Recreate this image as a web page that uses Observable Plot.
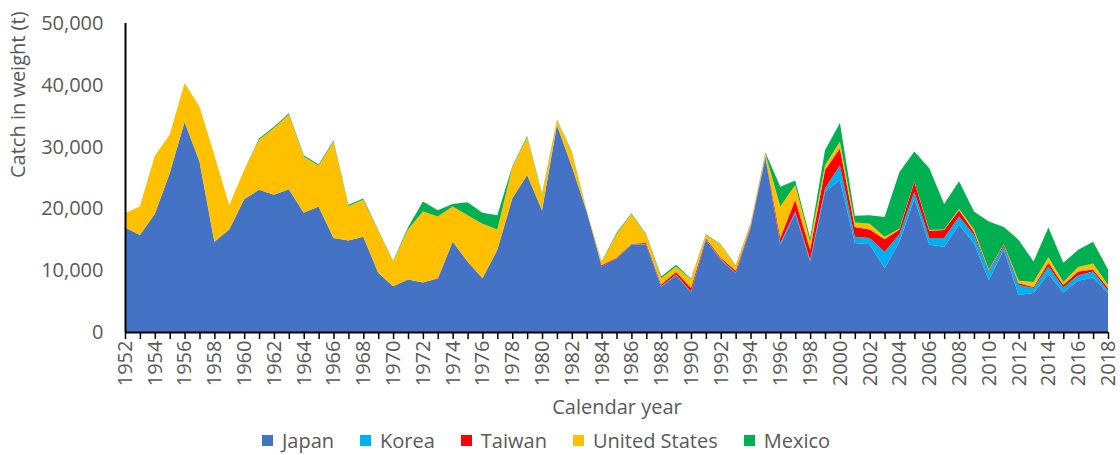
<!DOCTYPE html>
<html><head><meta charset="utf-8">
<script src="https://cdn.jsdelivr.net/npm/d3@7"></script>
<script src="https://cdn.jsdelivr.net/npm/@observablehq/plot@0.6"></script>
<style>
body{margin:0;background:#fff;font-family:"Open Sans",sans-serif;}
#chart{height:425px;}
#legend{display:flex;justify-content:center;align-items:center;height:30px;font-size:20px;color:#595959;padding-right:28px;}
.item{display:flex;align-items:center;margin:0 13px;}
.sw{width:11px;height:11px;margin-right:9px;}
</style></head><body><div id="chart"></div><div id="legend"></div>
<script>
const years = [1952,1953,1954,1955,1956,1957,1958,1959,1960,1961,1962,1963,1964,1965,1966,1967,1968,1969,1970,1971,1972,1973,1974,1975,1976,1977,1978,1979,1980,1981,1982,1983,1984,1985,1986,1987,1988,1989,1990,1991,1992,1993,1994,1995,1996,1997,1998,1999,2000,2001,2002,2003,2004,2005,2006,2007,2008,2009,2010,2011,2012,2013,2014,2015,2016,2017,2018];
const countries = ["Japan","Korea","Taiwan","United States","Mexico"];
const colors = ["#4472C4","#00B0F0","#FF0000","#FFC000","#00B050"];
const japan = [16900,15700,19100,25700,34000,27600,14600,16600,21500,23000, 22200,23100,19300,20300,15200,14800,15400,9600,7400,8500, 8000,8600,14600,11400,8700,13300,21600,25400,19700,33500, 26800,19500,10600,11900,14100,14100,7300,9200,6400,14900, 11700,9500,16800,28100,14100,19200,11400,22700,24600,14400, 14200,10300,14600,21600,14100,13800,17300,14400,8400,13300, 6000,6300,9400,6400,8300,8800,6300];
const korea = [0,0,0,0,0,0,0,0,0,0, 0,0,0,0,0,0,0,0,0,0, 0,0,0,0,0,0,0,0,0,0, 0,0,0,0,100,100,100,100,100,100, 100,100,100,100,300,300,300,500,2400,1000, 1000,2700,1200,1100,1100,1400,1400,1300,1400,500, 1600,800,1200,800,900,1000,400];
const taiwan = [0,0,0,0,0,0,0,0,0,0, 0,0,0,0,0,0,0,0,0,0, 0,100,0,0,0,0,0,0,0,0, 0,0,200,100,100,200,300,400,600,200, 200,300,200,200,800,1900,1600,3000,2700,1600, 1400,2000,800,1600,1200,1300,1000,500,200,300, 300,200,600,400,600,300,400];
const unitedStates = [2300,4600,9400,6200,6300,8900,14000,3900,4700,8100, 10800,12100,9100,6600,15600,5600,6000,6800,4000,8100, 11500,10000,5700,7500,8800,3300,5000,6100,2500,800, 2300,200,500,3800,4800,1300,1000,900,1400,500, 2100,800,400,400,5100,2400,1300,800,1100,700, 900,400,100,100,100,100,200,400,100,100, 400,800,900,500,700,1000,500];
const mexico = [0,0,0,0,0,0,0,0,0,200, 200,200,200,200,200,200,200,100,100,300, 1600,1000,400,2100,1800,2300,200,200,200,100, 100,0,100,200,100,100,300,300,100,100, 100,100,100,200,3200,700,600,2400,3000,1100, 1400,3200,9200,4800,10000,4100,4500,2900,7800,2800, 6600,3300,4800,3100,2800,3500,2500];
const yTicks = [0,10000,20000,30000,40000,50000];
const xLabelTicks = years.filter((y,i)=>i%2===0);

const seriesVals = [japan, korea, taiwan, unitedStates, mexico];
const data = [];
countries.forEach((c, k) => years.forEach((y, i) => data.push({year: y, country: c, value: seriesVals[k][i]})));

const txt = "#595959";
const chart = Plot.plot({
  width: 1120, height: 425,
  marginLeft: 125, marginRight: 12, marginTop: 23, marginBottom: 93,
  style: {fontFamily: '"Open Sans", sans-serif', fontSize: "20px", color: txt, background: "#fff"},
  x: {domain: [1952, 2018]},
  y: {domain: [0, 50000]},
  color: {domain: countries, range: colors},
  marks: [
    Plot.areaY(data, {x: "year", y: "value", fill: "country", order: countries}),
    Plot.axisY({ticks: yTicks, tickSize: 0, tickPadding: 22, tickFormat: d3.format(","), label: null, fill: txt, fontSize: 20}),
    Plot.axisX({ticks: years, tickSize: 7, tickFormat: () => "", label: null, stroke: "#000", strokeWidth: 1.5}),
    Plot.axisX({ticks: xLabelTicks, tickSize: 0, tickPadding: 8, tickRotate: -90, tickFormat: d => String(d), label: null, fill: txt, fontSize: 20}),
    Plot.ruleY([0], {stroke: "#000", strokeWidth: 2}),
    Plot.ruleX([1952], {stroke: "#000", strokeWidth: 2}),
    Plot.text(["Catch in weight (t)"], {frameAnchor: "left", dx: -107, rotate: -90, fill: txt, fontSize: 20}),
    Plot.text(["Calendar year"], {frameAnchor: "bottom", dy: 81, fill: txt, fontSize: 20})
  ]
});
document.getElementById("chart").appendChild(chart);

const legend = document.getElementById("legend");
countries.forEach((c, k) => {
  const it = document.createElement("div"); it.className = "item";
  const sw = document.createElement("div"); sw.className = "sw"; sw.style.background = colors[k];
  const lb = document.createElement("span"); lb.textContent = c;
  it.appendChild(sw); it.appendChild(lb); legend.appendChild(it);
});
</script></body></html>
